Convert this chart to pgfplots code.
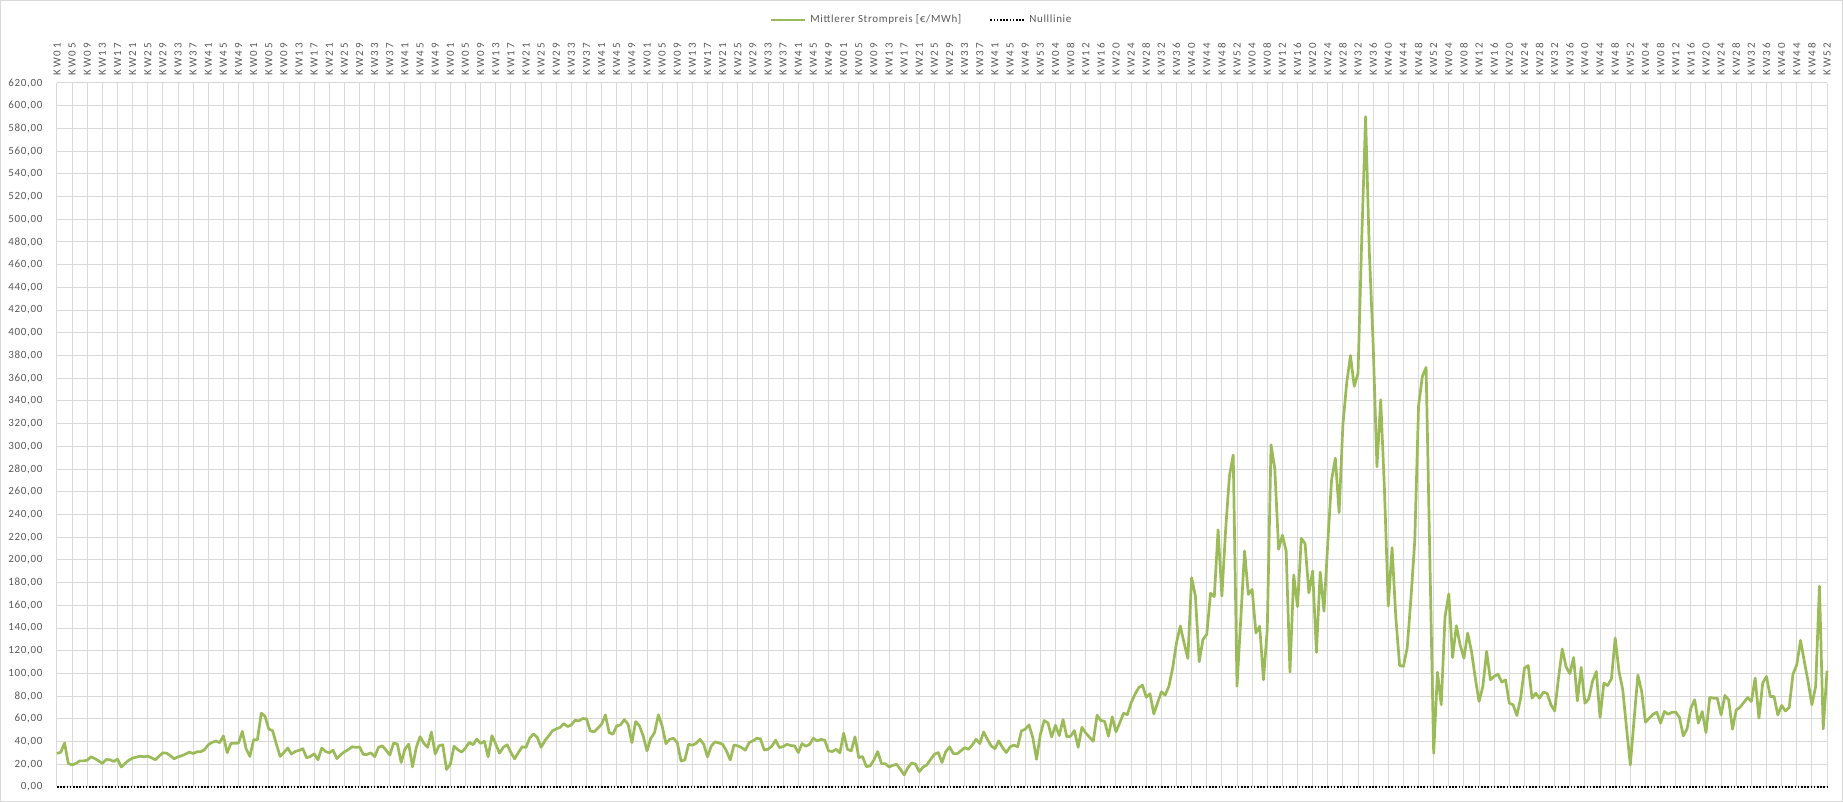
\documentclass[border=0pt]{standalone}
\usepackage{fontspec}
\setmainfont{Carlito}
\newfontfamily\lbl{Carlito}[LetterSpace=6]
\usepackage{pgfplots}
\pgfplotsset{compat=1.18}
\usetikzlibrary{calc}
\definecolor{strom}{RGB}{155,187,89}
\definecolor{gridgray}{RGB}{217,217,217}
\definecolor{txtgray}{RGB}{89,89,89}
\newcommand{\kw}[2]{K\kern1pt W\kern1pt #1\kern1pt #2}
\newcommand{\lblfont}{\lbl\fontsize{5.5pt}{6pt}\selectfont}

\begin{document}
\begin{tikzpicture}
\begin{axis}[
  scale only axis, width=885pt, height=352pt,
  xmin=0, xmax=468, ymin=0, ymax=620,
  clip=false,
  axis line style={draw=none},
  major tick length=0pt, minor tick length=0pt,
  xtick={0,4,...,468}, minor x tick num=3,
  ytick={0,20,...,620},
  grid=both,
  major grid style={gridgray, line width=0.5pt},
  minor grid style={gridgray, line width=0.5pt},
  xticklabel pos=upper,
  xticklabels={
    \kw01,\kw05,\kw09,\kw13,\kw17,\kw21,\kw25,\kw29,\kw33,\kw37,\kw41,\kw45,\kw49,
    \kw01,\kw05,\kw09,\kw13,\kw17,\kw21,\kw25,\kw29,\kw33,\kw37,\kw41,\kw45,\kw49,
    \kw01,\kw05,\kw09,\kw13,\kw17,\kw21,\kw25,\kw29,\kw33,\kw37,\kw41,\kw45,\kw49,
    \kw01,\kw05,\kw09,\kw13,\kw17,\kw21,\kw25,\kw29,\kw33,\kw37,\kw41,\kw45,\kw49,
    \kw01,\kw05,\kw09,\kw13,\kw17,\kw21,\kw25,\kw29,\kw33,\kw37,\kw41,\kw45,\kw49,\kw53,
    \kw04,\kw08,\kw12,\kw16,\kw20,\kw24,\kw28,\kw32,\kw36,\kw40,\kw44,\kw48,\kw52,
    \kw04,\kw08,\kw12,\kw16,\kw20,\kw24,\kw28,\kw32,\kw36,\kw40,\kw44,\kw48,\kw52,
    \kw04,\kw08,\kw12,\kw16,\kw20,\kw24,\kw28,\kw32,\kw36,\kw40,\kw44,\kw48,\kw52,
    \kw04,\kw08,\kw12,\kw16,\kw20,\kw24,\kw28,\kw32,\kw36,\kw40,\kw44,\kw48,\kw52},
  xticklabel style={rotate=90, anchor=west, font=\lblfont, text=txtgray, inner sep=3.5pt},
  yticklabel style={font=\lblfont, text=txtgray, xshift=-3.8pt},
  /pgf/number format/.cd, fixed, fixed zerofill, precision=2, use comma, 1000 sep={},
  assume math mode=true,
  /pgfplots/.cd,
  legend style={at={(0.489,1)}, anchor=center, yshift=31.5pt, draw=none, fill=none,
    legend columns=-1, font=\lblfont, text=txtgray,
    /tikz/every even column/.append style={column sep=12pt}},
  legend image code/.code={\draw[#1] (0pt,0pt) -- (17pt,0pt);},
]
% mittlerer Strompreis je Kalenderwoche, KW01/2016 bis KW52/2024
\addplot[strom, line width=1.35pt, line join=round] coordinates {
(0,29.5)(1,30.7)(2,38.7)(3,20.7)(4,19.5)(5,20.7)(6,23)(7,23)(8,23.6)(9,26.6)(10,25)(11,23)(12,20.7)(13,24.2)(14,24)(15,22.5)(16,24.5)(17,17.7)(18,20.7)(19,23.6)(20,25.4)(21,26.3)(22,27.2)(23,26.6)(24,27.2)(25,25.7)(26,24)(27,27.2)(28,30.1)(29,29.8)(30,27.5)(31,24.8)(32,26.6)(33,27.5)(34,29)(35,30.7)(36,29.5)(37,31)(38,31)(39,32.8)(40,37.2)(41,39.3)(42,40.5)(43,39)(44,44.9)(45,30.1)(46,38.4)(47,38.4)(48,38.7)(49,49)(50,33.7)(51,26.9)
(52,41.7)(53,41.7)(54,65)(55,62.3)(56,51)(57,49.6)(58,37.8)(59,26.9)(60,30.4)(61,34.3)(62,29)(63,31.3)(64,32.2)(65,33.7)(66,25.7)(67,26.9)(68,29.2)(69,24)(70,34.3)(71,31.3)(72,30.1)(73,32.5)(74,25)(75,28.4)(76,31)(77,32.8)(78,35.4)(79,34.9)(80,35.2)(81,28.7)(82,28.7)(83,30.1)(84,26.6)(85,34.9)(86,36.3)(87,32.5)(88,28.1)(89,38.7)(90,37.8)(91,21.6)(92,33.4)(93,37.8)(94,17.7)(95,34.9)(96,44.3)(97,38.4)(98,34.9)(99,48.4)(100,29)(101,36.3)(102,37.2)(103,15.4)
(104,20.1)(105,36)(106,32.8)(107,30.7)(108,34.3)(109,39.3)(110,37.2)(111,42.2)(112,38.4)(113,40.2)(114,26.6)(115,45.2)(116,37.8)(117,29.8)(118,34.9)(119,37.2)(120,30.4)(121,24.8)(122,30.4)(123,35.4)(124,34.9)(125,43.1)(126,46.7)(127,43.7)(128,34.9)(129,40.8)(130,45)(131,49.4)(132,51.2)(133,52.4)(134,55.9)(135,53.2)(136,54.7)(137,58.8)(138,58.2)(139,60.3)(140,60)(141,49.4)(142,48.5)(143,51.8)(144,55.3)(145,63.5)(146,47.9)(147,46.5)(148,53.8)(149,54.7)(150,59.4)(151,55.3)(152,39.1)(153,57.6)(154,53.8)(155,45)
(156,31.8)(157,42.9)(158,47.9)(159,63.5)(160,53.8)(161,38.2)(162,42)(163,42.9)(164,39.1)(165,22.9)(166,23.8)(167,37.6)(168,36.8)(169,38.5)(170,42)(171,37.6)(172,26.5)(173,36.2)(174,39.7)(175,38.8)(176,37.6)(177,31.8)(178,23.8)(179,37)(180,36.2)(181,34.7)(182,32.4)(183,39.1)(184,40.6)(185,42.9)(186,42.4)(187,32.6)(188,33.2)(189,35.9)(190,41.2)(191,34.7)(192,35.6)(193,37.6)(194,36.5)(195,36.2)(196,30.3)(197,38.2)(198,35.9)(199,37.6)(200,42.9)(201,40.6)(202,42)(203,41.2)(204,31.8)(205,31.2)(206,33.2)(207,30)
(208,47.4)(209,33.2)(210,31.8)(211,44.1)(212,25.9)(213,26.8)(214,17.9)(215,18.5)(216,23.8)(217,31.2)(218,20.6)(219,20.6)(220,17.6)(221,19.1)(222,20)(223,15.6)(224,10.6)(225,17.1)(226,21.2)(227,20)(228,13.5)(229,17.6)(230,19.4)(231,24.4)(232,28.8)(233,30.3)(234,21.5)(235,31.2)(236,35.3)(237,29.4)(238,29.4)(239,31.8)(240,34.7)(241,33.2)(242,37)(243,42)(244,38.2)(245,48.5)(246,42)(247,36.2)(248,33.8)(249,40.6)(250,34.7)(251,30.3)(252,35.3)(253,37)(254,35.3)(255,49.4)(256,50.9)(257,54.7)(258,43.5)(259,24.4)(260,46)
(261,58.5)(262,56.5)(263,44.1)(264,54.4)(265,45.3)(266,59.4)(267,44.1)(268,44.7)(269,49.7)(270,35)(271,52.6)(272,47.6)(273,43.8)(274,40.3)(275,63.2)(276,58.5)(277,57.9)(278,44.7)(279,61.8)(280,48.5)(281,56.5)(282,65)(283,63.8)(284,74.1)(285,81.5)(286,87.4)(287,89.7)(288,79.1)(289,82.1)(290,64.4)(291,74.1)(292,83.8)(293,80.9)(294,88.8)(295,105)(296,127)(297,141.8)(298,127)(299,113.2)(300,184.4)(301,168.2)(302,110.3)(303,130)(304,134.4)(305,170.6)(306,167.6)(307,226.5)(308,168.2)(309,227)(310,274)(311,292.4)(312,88.8)
(313,148)(314,207.8)(315,169.6)(316,174)(317,135.7)(318,141.6)(319,94.5)(320,138.6)(321,301.4)(322,280)(323,209.3)(324,221.7)(325,207.8)(326,101.3)(327,186.6)(328,158.7)(329,219)(330,214.3)(331,171)(332,190.2)(333,118.6)(334,189.3)(335,154.8)(336,215)(337,270.2)(338,289.7)(339,241.7)(340,319)(341,355.7)(342,380)(343,352.8)(344,364.5)(345,485)(346,590.3)(347,470)(348,390)(349,282)(350,341)(351,260.8)(352,159.3)(353,210.8)(354,149)(355,107)(356,106.3)(357,122.5)(358,166.6)(359,216.7)(360,335.2)(361,361.6)(362,369.5)(363,200)(364,29.7)
(365,101)(366,72.4)(367,150)(368,170)(369,114)(370,142)(371,125)(372,113.5)(373,135.6)(374,119.4)(375,96)(376,75.3)(377,88.5)(378,119.4)(379,94.4)(380,97.4)(381,99.4)(382,92.4)(383,94.4)(384,73.8)(385,72.4)(386,62.9)(387,78.2)(388,104.7)(389,107)(390,78.2)(391,82.6)(392,78.2)(393,83.5)(394,82.6)(395,72.4)(396,67)(397,95.9)(398,121.5)(399,106)(400,99.7)(401,114)(402,75.9)(403,105.3)(404,73.8)(405,77.6)(406,93)(407,101.8)(408,61.2)(409,91.5)(410,89.4)(411,95.3)(412,131.2)(413,101.8)(414,85.6)(415,51.8)(416,19.4)
(417,60)(418,98.5)(419,84)(420,57)(421,60.6)(422,64)(423,65.9)(424,56.2)(425,66.5)(426,64)(427,65.9)(428,65.9)(429,61.2)(430,45)(431,51.2)(432,69.4)(433,76.8)(434,56.2)(435,66.5)(436,47.9)(437,78.8)(438,78.2)(439,78.2)(440,63.5)(441,80.6)(442,76.8)(443,50.9)(444,67.9)(445,70.3)(446,74.4)(447,78.8)(448,75.3)(449,95.9)(450,60.6)(451,91.5)(452,97.4)(453,79.7)(454,79.7)(455,63.5)(456,71.8)(457,67)(458,70)(459,99.4)(460,107.6)(461,129.1)(462,110.6)(463,92.9)(464,72.4)(465,88.5)(466,176.8)(467,51.2)(468,102.4)
};
\addlegendentry{Mittlerer Strompreis [€/MWh]}
\addplot[black, line width=1pt, dash pattern=on 0.8pt off 0.8pt] coordinates {(0,0)(468,0)};
\addlegendentry{Nulllinie}
\end{axis}
\pgfresetboundingbox
\draw[gridgray, line width=0.5pt] ($(current axis.south west)+(-28.25pt,-7.25pt)$) rectangle ($(current axis.north east)+(7.75pt,41.25pt)$);
\end{tikzpicture}
\end{document}
